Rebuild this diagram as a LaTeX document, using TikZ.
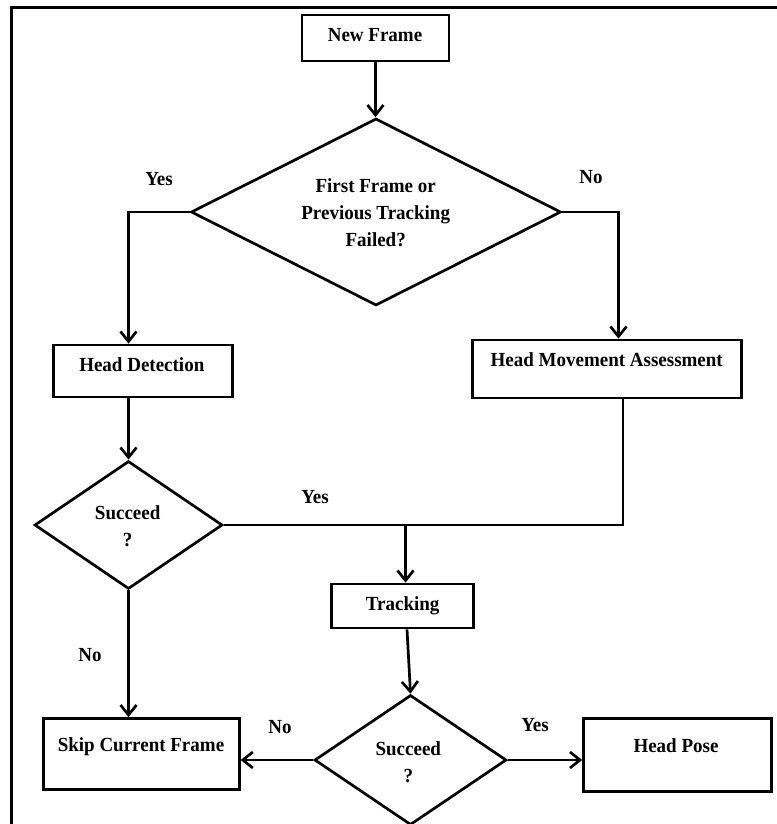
\documentclass[tikz,border=0pt]{standalone}
\usepackage{fontspec}
\setmainfont{Liberation Serif}[FakeStretch=0.95]
\usetikzlibrary{shapes.geometric,arrows.meta,calc}
\begin{document}
\begin{tikzpicture}[x=1pt,y=-1pt,
  line width=2.7pt,
  box/.style={draw, rectangle, inner sep=0pt, line width=2.7pt},
  dia/.style={draw, diamond, inner sep=0pt, line width=2.7pt},
  txt/.style={font=\fontsize{20}{26.7}\selectfont\bfseries, inner sep=0pt},
  one/.style={txt, text height=13.2pt, text depth=0pt},
  multi/.style={txt, align=center},
  arr/.style={-{Straight Barb[length=10pt,width=16pt]}, line width=2.7pt},
  conn/.style={line width=2.7pt}
]
\useasboundingbox (0,0) rectangle (776,824);
\draw[line width=3pt] (11,7.5) rectangle (800,850);

\node[box, minimum width=147pt, minimum height=46pt] (newf) at (375.5,38) {};
\node[one] (newft) at (375,34.7) {New Frame};
\node[dia, minimum width=370pt, minimum height=187pt] (dec1) at (376,212) {};
\node[multi] (dec1t) at (375.7,212.7) {First Frame or\\Previous Tracking\\Failed?};
\node[box, minimum width=179pt, minimum height=52pt] (hd) at (143.3,371) {};
\node[one] (hdt) at (141.8,365) {Head Detection};
\node[box, minimum width=269pt, minimum height=58pt] (hma) at (607,369) {};
\node[one] (hmat) at (606.7,360) {Head Movement Assessment};
\node[dia, minimum width=188pt, minimum height=128pt] (dec2) at (128.5,525) {};
\node[multi] (dec2t) at (127.7,526.3) {Succeed\\?};
\node[box, minimum width=142pt, minimum height=44pt] (trk) at (402.5,606) {};
\node[one] (trkt) at (402.7,604) {Tracking};
\node[dia, minimum width=192pt, minimum height=130pt] (dec3) at (410.5,760) {};
\node[multi] (dec3t) at (408.3,762) {Succeed\\?};
\node[box, minimum width=196pt, minimum height=71pt] (skip) at (141.3,754) {};
\node[one] (skipt) at (141,745) {Skip Current Frame};
\node[box, minimum width=188pt, minimum height=73pt] (pose) at (677.5,755) {};
\node[one] (poset) at (676,745.7) {Head Pose};

\node[one] (l1) at (159,179) {Yes};
\node[one] (l2) at (591,177) {No};
\node[one] (l3) at (315,497) {Yes};
\node[one] (l4) at (90,655) {No};
\node[one] (l5) at (280,727) {No};
\node[one] (l6) at (535,725) {Yes};

\draw[arr] (newf.south) -- (newf.south |- dec1.north);
\draw[arr] (dec1.west) -| (dec2.north |- hd.north);
\draw[arr] (dec1.east) -| ([xshift=11.5pt]hma.north);
\draw[arr] (dec2.north |- hd.south) -- (dec2.north);
\draw[conn] ([xshift=16pt]hma.south) |- (dec2.east);
\coordinate (j) at ([xshift=3pt]trk.north |- dec2.east);
\draw[arr] (j) -- (j |- trk.north);
\draw[arr] ([xshift=4.5pt]trk.south) -- (dec3.north);
\draw[arr] (dec2.south) -- (dec2.south |- skip.north);
\draw[arr] (dec3.west) -- (dec3.west -| skip.east);
\draw[arr] (dec3.east) -- (dec3.east -| pose.west);
\end{tikzpicture}
\end{document}
